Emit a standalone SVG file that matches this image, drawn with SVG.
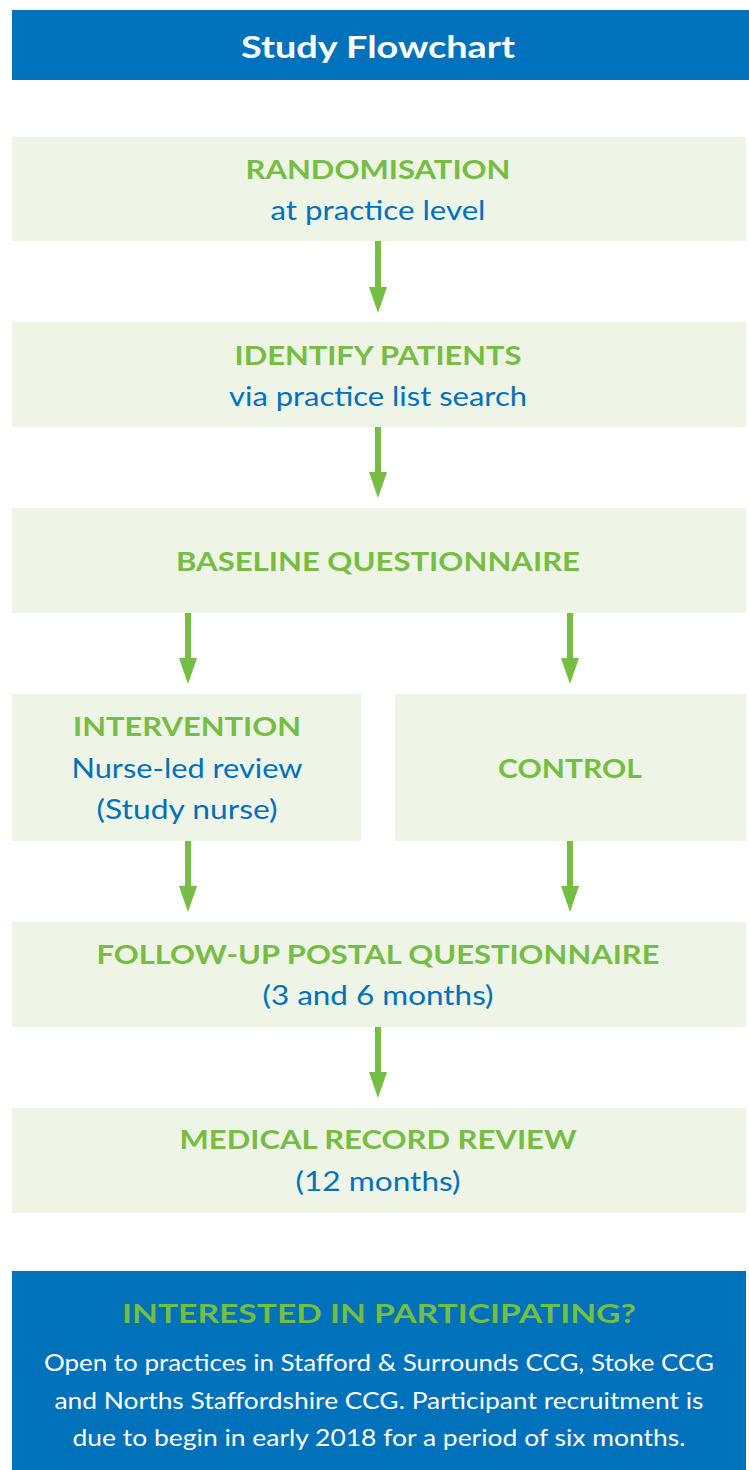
<svg xmlns="http://www.w3.org/2000/svg" width="749" height="1470" viewBox="0 0 749 1470">
<style>
.box{fill:#EEF4E6}
.blue{fill:#0071BB}
.h{font-family:Lato,"Open Sans","Liberation Sans",sans-serif;font-weight:bold;fill:#76BD43;font-size:27px;text-anchor:middle}
.s{font-family:Lato,"Open Sans","Liberation Sans",sans-serif;fill:#0071BB;font-size:27px;text-anchor:middle}
.w{font-family:Lato,"Open Sans","Liberation Sans",sans-serif;fill:#FFFFFF;font-size:23px;text-anchor:middle}
.arr{fill:#76BD43}
</style>
<rect width="749" height="1470" fill="#FFFFFF"/>
<g id="header">
<rect class="blue" x="12" y="10" width="737" height="70"/>
<text x="378" y="58" font-family="Lato,'Open Sans','Liberation Sans',sans-serif" font-weight="bold" font-size="31" fill="#FFFFFF" text-anchor="middle" textLength="274" lengthAdjust="spacingAndGlyphs">Study Flowchart</text>
</g>
<g id="randomisation">
<rect class="box" x="12" y="137" width="734" height="104"/>
<text class="h" x="378" y="179" textLength="265" lengthAdjust="spacingAndGlyphs">RANDOMISATION</text>
<text class="s" x="378" y="220" textLength="215" lengthAdjust="spacingAndGlyphs">at practice level</text>
</g>
<g id="identify">
<rect class="box" x="12" y="322" width="734" height="105"/>
<text class="h" x="378" y="365" textLength="287" lengthAdjust="spacingAndGlyphs">IDENTIFY PATIENTS</text>
<text class="s" x="378" y="406" textLength="298" lengthAdjust="spacingAndGlyphs">via practice list search</text>
</g>
<g id="baseline">
<rect class="box" x="12" y="508" width="734" height="105"/>
<text class="h" x="378" y="571" textLength="404" lengthAdjust="spacingAndGlyphs">BASELINE QUESTIONNAIRE</text>
</g>
<g id="intervention">
<rect class="box" x="12" y="694" width="349" height="147"/>
<text class="h" x="187" y="736" textLength="228" lengthAdjust="spacingAndGlyphs">INTERVENTION</text>
<text class="s" x="187" y="778" textLength="231" lengthAdjust="spacingAndGlyphs">Nurse-led review</text>
<text class="s" x="187" y="819" textLength="181" lengthAdjust="spacingAndGlyphs">(Study nurse)</text>
</g>
<g id="control">
<rect class="box" x="395" y="694" width="351" height="147"/>
<text class="h" x="570" y="778" textLength="144" lengthAdjust="spacingAndGlyphs">CONTROL</text>
</g>
<g id="followup">
<rect class="box" x="12" y="922" width="734" height="105"/>
<text class="h" x="378" y="964" textLength="563" lengthAdjust="spacingAndGlyphs">FOLLOW-UP POSTAL QUESTIONNAIRE</text>
<text class="s" x="378" y="1005" textLength="231" lengthAdjust="spacingAndGlyphs">(3 and 6 months)</text>
</g>
<g id="medical">
<rect class="box" x="12" y="1108" width="734" height="105"/>
<text class="h" x="378" y="1149" textLength="397" lengthAdjust="spacingAndGlyphs">MEDICAL RECORD REVIEW</text>
<text class="s" x="378" y="1191" textLength="165" lengthAdjust="spacingAndGlyphs">(12 months)</text>
</g>
<g id="interested">
<rect class="blue" x="12" y="1271" width="734" height="199"/>
<text class="h" x="379" y="1323" font-size="31" textLength="514" lengthAdjust="spacingAndGlyphs">INTERESTED IN PARTICIPATING?</text>
<text class="w" x="379" y="1371" textLength="670" lengthAdjust="spacingAndGlyphs">Open to practices in Stafford &amp; Surrounds CCG, Stoke CCG</text>
<text class="w" x="379" y="1409" textLength="649" lengthAdjust="spacingAndGlyphs">and Norths Staffordshire CCG. Participant recruitment is</text>
<text class="w" x="379" y="1446" textLength="613" lengthAdjust="spacingAndGlyphs">due to begin in early 2018 for a period of six months.</text>
</g>
<g id="connectors">
<polygon class="arr" points="375,241 381,241 381,287 387,287 378,313 369,287 375,287"/>
<polygon class="arr" points="375,427 381,427 381,472 387,472 378,498 369,472 375,472"/>
<polygon class="arr" points="185,613 191,613 191,658 197,658 188,684 179,658 185,658"/>
<polygon class="arr" points="567,613 573,613 573,658 579,658 570,684 561,658 567,658"/>
<polygon class="arr" points="185,841 191,841 191,886 197,886 188,912 179,886 185,886"/>
<polygon class="arr" points="567,841 573,841 573,886 579,886 570,912 561,886 567,886"/>
<polygon class="arr" points="375,1027 381,1027 381,1072 387,1072 378,1098 369,1072 375,1072"/>
</g>
</svg>
